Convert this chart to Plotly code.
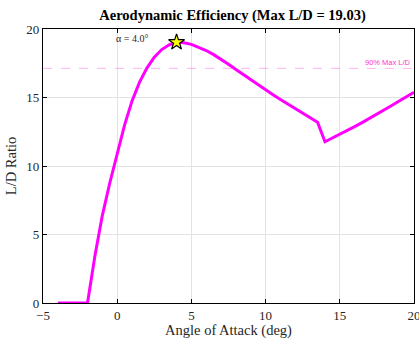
import plotly.graph_objects as go

alpha = [-4, -3.5, -3, -2.5, -2, -1.5, -1, -0.5, 0, 0.5, 1, 1.5, 2, 2.5, 3, 3.5, 4,
         4.5, 5, 5.5, 6, 6.5, 7, 7.5, 8, 8.5, 9, 9.5, 10, 10.5, 11, 11.5, 12, 12.5, 13, 13.5,
         14, 14.5, 15, 15.5, 16, 16.5, 17, 17.5, 18, 18.5, 19, 19.5, 20]
ld = [0, 0, 0, 0, 0, 3.45, 6.4, 8.76, 10.9, 13.0, 14.75, 16.1, 17.15, 17.95, 18.5, 18.85, 19.03,
      19.0, 18.88, 18.68, 18.43, 18.13, 17.8, 17.43, 17.05, 16.67, 16.29, 15.91, 15.55, 15.2, 14.86,
      14.52, 14.18, 13.85, 13.53, 13.2,
      11.77, 12.03, 12.3, 12.58, 12.87, 13.17, 13.47, 13.78, 14.1, 14.42, 14.74, 15.06, 15.38]
best_alpha = 4.0
max_ld = 19.03
x_ticks = [-5, 0, 5, 10, 15, 20]
y_ticks = [0, 5, 10, 15, 20]

serif = "Liberation Serif, Times New Roman, serif"
fig = go.Figure()
fig.add_trace(go.Scatter(x=[-5, 20], y=[0.9 * max_ld] * 2, mode="lines",
                         line=dict(color="rgba(255,0,200,0.3)", width=1, dash="dash"),
                         showlegend=False, hoverinfo="skip"))
fig.add_trace(go.Scatter(x=alpha, y=ld, mode="lines",
                         line=dict(color="#ff00ff", width=3), showlegend=False))
fig.add_trace(go.Scatter(x=[best_alpha], y=[max_ld], mode="markers",
                         marker=dict(symbol="star", size=12, color="#ffff00",
                                     line=dict(color="black", width=1.2)),
                         showlegend=False))
fig.add_annotation(x=best_alpha - 3, y=max_ld + 0.25, text="α = 4.0°", showarrow=False,
                   font=dict(family=serif, size=10, color="#262626"), xanchor="center", yanchor="middle")
fig.add_annotation(x=19.9, y=0.9 * max_ld + 0.45, text="90% Max L/D", showarrow=False,
                   font=dict(family="Liberation Sans, Arial, sans-serif", size=7.5, color="#ff33cc"),
                   xanchor="right", yanchor="middle")

axis_common = dict(showline=True, linecolor="black", linewidth=1.2, mirror="ticks",
                   ticks="inside", ticklen=4, tickcolor="black", showgrid=True,
                   gridcolor="#e3e3e3", gridwidth=1, zeroline=False, automargin=False,
                   tickfont=dict(family=serif, size=13, color="#262626"))
fig.update_xaxes(range=[-5, 20], tickvals=x_ticks, ticklabeloverflow="allow",
                 title=dict(text="Angle of Attack (deg)", font=dict(family=serif, size=14.5, color="#262626"),
                            standoff=0), **axis_common)
fig.update_yaxes(range=[0, 20], tickvals=y_ticks,
                 title=dict(text="L/D Ratio", font=dict(family=serif, size=14.5, color="#262626"),
                            standoff=6), **axis_common)
fig.update_layout(
    width=419, height=339,
    margin=dict(l=43, r=5, t=29, b=36),
    paper_bgcolor="white", plot_bgcolor="white",
    title=dict(text="<b>Aerodynamic Efficiency (Max L/D = 19.03)</b>", x=0.555, xanchor="center",
               y=0.955, yanchor="middle", font=dict(family=serif, size=14.5, color="black")),
)
fig.write_html("out.html")
